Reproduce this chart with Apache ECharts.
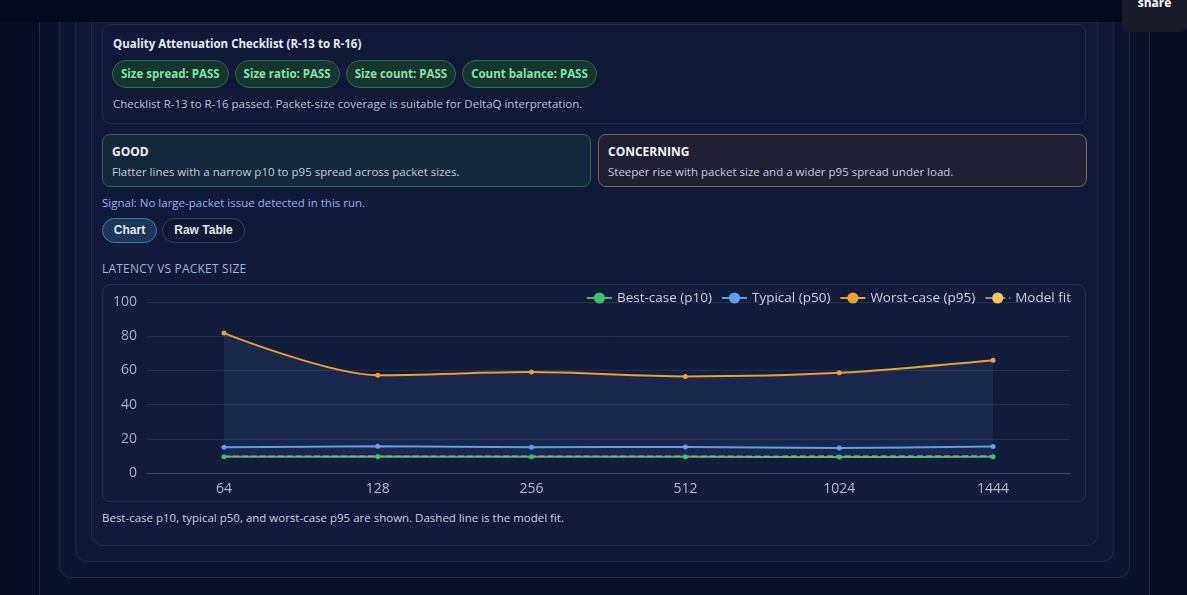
<!DOCTYPE html>
<html>
<head>
<meta charset="utf-8">
<script src="https://cdn.jsdelivr.net/npm/echarts@6/dist/echarts.min.js"></script>
<style>
  html, body { margin: 0; padding: 0; }
  body {
    width: 1187px; height: 595px; overflow: hidden; position: relative;
    background: #070c22;
    font-family: "Open Sans", "Noto Sans", sans-serif;
  }
  .topbar { position: absolute; left: 0; top: 0; width: 1187px; height: 22px; background: #050a1c; }
  .share {
    position: absolute; left: 1122px; top: -8px; width: 65px; height: 40px;
    background: #191c27; border-radius: 6px; color: #fff; font-weight: 700;
    font-size: 12px; text-align: center; line-height: 22px;
  }
  .panel { position: absolute; box-sizing: border-box; border: 1px solid #1f2946; border-top: none; border-radius: 0 0 12px 12px; }
  .p1 { left: 39px; top: 22px; width: 1111px; height: 600px; background: #0b1128; border-radius: 0 0 16px 16px; }
  .p2 { left: 59px; top: 22px; width: 1071px; height: 556px; background: #0e1430; }
  .p3 { left: 75px; top: 22px; width: 1039px; height: 540px; background: #10183a; }
  .p4 { left: 91px; top: 22px; width: 1007px; height: 524px; background: #111a3a; }
  .card { position: absolute; box-sizing: border-box; border-radius: 8px; }
  .check { left: 102px; top: 24px; width: 984px; height: 100px; border: 1px solid #26304e; background: #101938; }
  .check .title { position: absolute; left: 10px; top: 11px; color: #e6ebf5; font-weight: 700; font-size: 11.5px; }
  .pills { position: absolute; left: 9px; top: 35px; display: flex; gap: 6px; }
  .pill {
    height: 28px; box-sizing: border-box; border: 1px solid #2f6b52; border-radius: 14px;
    background: #15352f; color: #86e3a8; font-weight: 700; font-size: 11.5px;
    padding: 0 8px; line-height: 26px;
  }
  .check .note { position: absolute; left: 10px; top: 71px; color: #b9c3d6; font-size: 11.5px; }
  .good { left: 102px; top: 134px; width: 489px; height: 53px; border: 1px solid #2f6650; background: #13283a; }
  .bad { left: 598px; top: 134px; width: 489px; height: 53px; border: 1px solid #7d6448; background: #211f33; }
  .card h4 { margin: 0; position: absolute; left: 9px; top: 8px; color: #f2f4f8; font-size: 12px; font-weight: 700; }
  .card p { margin: 0; position: absolute; left: 9px; top: 29px; color: #c5cddc; font-size: 11.5px; }
  .signal { position: absolute; left: 102px; top: 195px; color: #8fb4f2; font-size: 11.5px; }
  .btn {
    position: absolute; top: 218px; height: 25px; box-sizing: border-box; border-radius: 13px;
    font-family: "Liberation Sans", Arial, sans-serif; font-weight: 700; font-size: 12px;
    color: #e3e8f2; line-height: 23px; text-align: center;
  }
  .b1 { left: 102px; width: 55px; background: #1b3858; border: 1px solid #4476a8; }
  .b2 { left: 162px; width: 83px; background: #111834; border: 1px solid #37415e; }
  .section { position: absolute; left: 102px; top: 260px; color: #9fb3dc; font-size: 12px; letter-spacing: 0.2px; }
  #main {
    position: absolute; left: 102px; top: 284px; width: 984px; height: 218px;
    box-sizing: border-box; border: 1px solid #263252; border-radius: 8px; background: #121c3b;
  }
  .caption { position: absolute; left: 102px; top: 510px; color: #c6d0e3; font-size: 11.5px; }
</style>
</head>
<body>
<div class="topbar"></div>
<div class="panel p1"></div>
<div class="panel p2"></div>
<div class="panel p3"></div>
<div class="panel p4"></div>
<div class="share">share</div>

<div class="card check">
  <div class="title">Quality Attenuation Checklist (R-13 to R-16)</div>
  <div class="pills">
    <div class="pill">Size spread: PASS</div>
    <div class="pill">Size ratio: PASS</div>
    <div class="pill">Size count: PASS</div>
    <div class="pill">Count balance: PASS</div>
  </div>
  <div class="note">Checklist R-13 to R-16 passed. Packet-size coverage is suitable for DeltaQ interpretation.</div>
</div>

<div class="card good">
  <h4>GOOD</h4>
  <p>Flatter lines with a narrow p10 to p95 spread across packet sizes.</p>
</div>
<div class="card bad">
  <h4>CONCERNING</h4>
  <p>Steeper rise with packet size and a wider p95 spread under load.</p>
</div>
<div class="signal">Signal: No large-packet issue detected in this run.</div>
<div class="btn b1">Chart</div>
<div class="btn b2">Raw Table</div>
<div class="section">LATENCY VS PACKET SIZE</div>
<div id="main"></div>
<div class="caption">Best-case p10, typical p50, and worst-case p95 are shown. Dashed line is the model fit.</div>

<script>
// packet sizes (bytes) and latency percentiles (ms)
const sizes = ['64', '128', '256', '512', '1024', '1444'];
const p10 = [9.5, 9.6, 9.5, 9.5, 9.3, 9.5];
const p50 = [15.0, 15.6, 15.1, 15.2, 14.6, 15.5];
const p95 = [81.8, 57.2, 59.0, 56.5, 58.6, 66.0];
const modelFit = [9.8, 9.8, 9.8, 9.8, 9.9, 9.9];

const yTicks = { min: 0, max: 100, interval: 20 };

const chart = echarts.init(document.getElementById('main'));

// band between p10 and p95
const bandSpan = p95.map((v, i) => +(v - p10[i]).toFixed(2));

chart.setOption({
  backgroundColor: 'transparent',
  animation: false,
  grid: { left: 44, right: 15, top: 17, bottom: 28 },
  legend: {
    right: 9, top: 1,
    itemWidth: 25, itemHeight: 14, itemGap: 9,
    textStyle: { color: '#c9d2e3', fontSize: 13.5, fontFamily: 'Open Sans' },
    data: ['Best-case (p10)', 'Typical (p50)', 'Worst-case (p95)', 'Model fit']
  },
  xAxis: {
    type: 'category',
    data: sizes,
    axisLine: { lineStyle: { color: '#3a4766' } },
    axisTick: { lineStyle: { color: '#3a4766' } },
    axisLabel: { color: '#b3bdd2', fontSize: 14, margin: 9, fontFamily: 'Open Sans' }
  },
  yAxis: {
    type: 'value',
    min: yTicks.min, max: yTicks.max, interval: yTicks.interval,
    axisLabel: { color: '#a6b1c8', fontSize: 14, margin: 10, fontFamily: 'Open Sans' },
    splitLine: { lineStyle: { color: '#243052' } }
  },
  series: [
    {
      name: 'band-base', type: 'line', stack: 'band', data: p10,
      symbol: 'none', lineStyle: { opacity: 0 }, silent: true, tooltip: { show: false }
    },
    {
      name: 'band', type: 'line', stack: 'band', data: bandSpan,
      symbol: 'none', lineStyle: { opacity: 0 }, smooth: 0.3,
      areaStyle: { color: 'rgba(70,105,170,0.22)' }, silent: true
    },
    {
      name: 'Best-case (p10)', type: 'line', data: p10,
      color: '#3fbf6a', symbol: 'circle', symbolSize: 5, smooth: 0.3,
      lineStyle: { width: 2 }
    },
    {
      name: 'Typical (p50)', type: 'line', data: p50,
      color: '#5f9ff0', symbol: 'circle', symbolSize: 5, smooth: 0.3,
      lineStyle: { width: 2 }
    },
    {
      name: 'Worst-case (p95)', type: 'line', data: p95,
      color: '#eaa032', symbol: 'circle', symbolSize: 5, smooth: 0.3,
      lineStyle: { width: 2 }
    },
    {
      name: 'Model fit', type: 'line', data: modelFit,
      itemStyle: { color: '#f6c35c' }, symbol: 'none', smooth: 0.3,
      lineStyle: { width: 1.5, type: 'dashed', color: '#c894a8', opacity: 0.8 }
    }
  ]
});
</script>
</body>
</html>
